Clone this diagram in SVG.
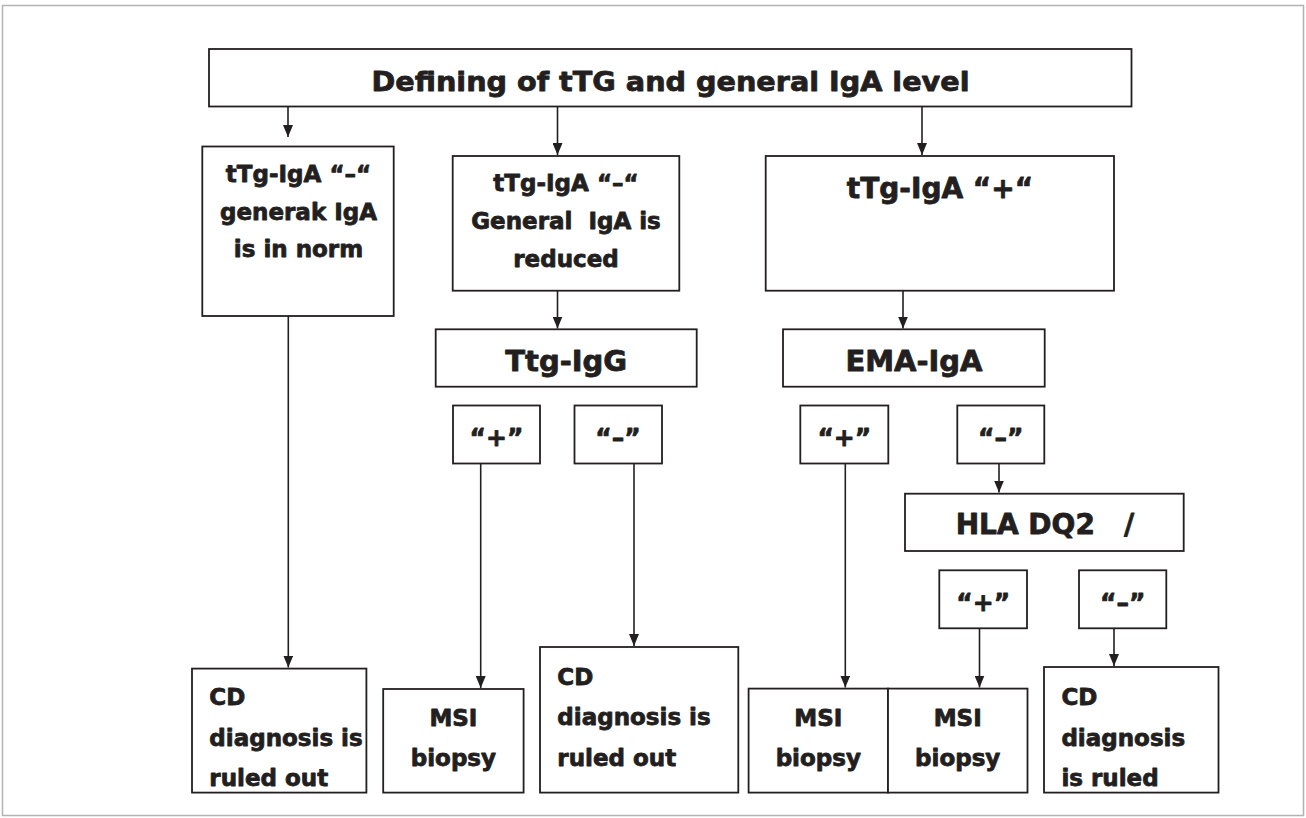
<svg xmlns="http://www.w3.org/2000/svg" width="1306" height="818" viewBox="0 0 1306 818">
<defs>
<marker id="ah" viewBox="0 0 12 10" refX="12" refY="5" markerWidth="12" markerHeight="10" markerUnits="userSpaceOnUse" orient="auto">
<path d="M0,0 L12,5 L0,10 z" fill="#231f20"/>
</marker>
<style>
.box{fill:#fff;stroke:#231f20;stroke-width:1.8}
.t{font-family:"DejaVu Sans",sans-serif;font-weight:bold;fill:#231f20;stroke:#231f20;stroke-width:0.8;stroke-linejoin:round}
.b{font-size:23px}
.h{font-size:29px}
.q{font-size:25px}
.c{text-anchor:middle}
.con line{stroke:#231f20;stroke-width:1.6}
.arr{marker-end:url(#ah)}
</style>
</defs>
<rect x="2.5" y="5.5" width="1301" height="810" fill="#fff" stroke="#b3b3b3" stroke-width="1.5"/>

<g id="connectors" class="con">
<line class="arr" x1="288" y1="106" x2="288" y2="137"/>
<line class="arr" x1="557.5" y1="106" x2="557.5" y2="155"/>
<line class="arr" x1="922" y1="106" x2="922" y2="155"/>
<line class="arr" x1="557.5" y1="291" x2="557.5" y2="328.5"/>
<line class="arr" x1="903" y1="291" x2="903" y2="328.5"/>
<line class="arr" x1="288.3" y1="310" x2="288.3" y2="667.5"/>
<line class="arr" x1="480.7" y1="463.5" x2="480.7" y2="688"/>
<line class="arr" x1="634" y1="463.5" x2="634" y2="646"/>
<line class="arr" x1="845.3" y1="463.5" x2="845.3" y2="687.5"/>
<line class="arr" x1="999" y1="463.5" x2="999" y2="492.5"/>
<line class="arr" x1="979.5" y1="628.3" x2="979.5" y2="687.5"/>
<line class="arr" x1="1114" y1="628.3" x2="1114" y2="666"/>
</g>

<g id="n-top">
<rect class="box" x="209" y="49" width="922.5" height="57.5"/>
<text class="t c" x="670.5" y="90.5" font-size="27" textLength="598" lengthAdjust="spacingAndGlyphs">Defining of tTG and general IgA level</text>
</g>

<g id="n-a">
<rect class="box" x="202.3" y="146.5" width="191.4" height="169.5"/>
<text class="t b c" x="298.5" y="181.5">tTg-IgA “–“</text>
<text class="t b c" x="298.5" y="219.5">generak IgA</text>
<text class="t b c" x="298.5" y="256.5">is in norm</text>
</g>

<g id="n-b">
<rect class="box" x="452.7" y="156" width="226.6" height="134.7"/>
<text class="t b c" x="566" y="191">tTg-IgA “–“</text>
<text class="t b c" x="566" y="229" xml:space="preserve">General  IgA is</text>
<text class="t b c" x="566" y="266.5">reduced</text>
</g>

<g id="n-c">
<rect class="box" x="765.7" y="156" width="348.3" height="134.7"/>
<text class="t c" x="940" y="198" font-size="28">tTg-IgA “+“</text>
</g>

<g id="n-ttgigg">
<rect class="box" x="435.7" y="329.3" width="261" height="57.4"/>
<text class="t h c" x="566.2" y="370.7">Ttg-IgG</text>
</g>

<g id="n-emaiga">
<rect class="box" x="783" y="329.3" width="261.7" height="57.4"/>
<text class="t h c" x="914" y="370.7">EMA-IgA</text>
</g>

<g id="n-ttg-pos">
<rect class="box" x="453" y="405.5" width="87" height="58"/>
<text class="t q c" x="496.5" y="446">“+”</text>
</g>
<g id="n-ttg-neg">
<rect class="box" x="574.5" y="405.5" width="87.5" height="58"/>
<text class="t q c" x="618" y="446">“–”</text>
</g>
<g id="n-ema-pos">
<rect class="box" x="800.3" y="405.5" width="88" height="58"/>
<text class="t q c" x="844.3" y="446">“+”</text>
</g>
<g id="n-ema-neg">
<rect class="box" x="957.3" y="405.5" width="87" height="58"/>
<text class="t q c" x="1000.8" y="446">“–”</text>
</g>

<g id="n-hla">
<rect class="box" x="905" y="493.7" width="278.7" height="57.3"/>
<text class="t c" x="1045" y="534.3" font-size="28" xml:space="preserve">HLA DQ2   /</text>
</g>

<g id="n-hla-pos">
<rect class="box" x="939.3" y="570.3" width="87.7" height="58"/>
<text class="t q c" x="983.2" y="610.8">“+”</text>
</g>
<g id="n-hla-neg">
<rect class="box" x="1079" y="570.3" width="87.3" height="58"/>
<text class="t q c" x="1122.7" y="610.8">“–”</text>
</g>

<g id="n-cd1">
<rect class="box" x="192" y="668.6" width="174.4" height="124"/>
<text class="t b" x="209.3" y="705">CD</text>
<text class="t b" x="209.3" y="745.5">diagnosis is</text>
<text class="t b" x="209.3" y="786">ruled out</text>
</g>

<g id="n-msi1">
<rect class="box" x="383.2" y="689" width="140.4" height="103.6"/>
<text class="t b c" x="453.4" y="726">MSI</text>
<text class="t b c" x="453.4" y="766">biopsy</text>
</g>

<g id="n-cd2">
<rect class="box" x="540" y="647" width="198.3" height="145.6"/>
<text class="t b" x="557.3" y="684.5">CD</text>
<text class="t b" x="557.3" y="725">diagnosis is</text>
<text class="t b" x="557.3" y="765.5">ruled out</text>
</g>

<g id="n-msi2">
<rect class="box" x="748.6" y="688.6" width="139.4" height="104"/>
<text class="t b c" x="818.3" y="726">MSI</text>
<text class="t b c" x="818.3" y="766">biopsy</text>
</g>

<g id="n-msi3">
<rect class="box" x="888" y="688.6" width="139.5" height="104"/>
<text class="t b c" x="957.7" y="726">MSI</text>
<text class="t b c" x="957.7" y="766">biopsy</text>
</g>

<g id="n-cd3">
<rect class="box" x="1044" y="667" width="174.5" height="125.6"/>
<text class="t b" x="1061.4" y="705">CD</text>
<text class="t b" x="1061.4" y="745.5">diagnosis</text>
<text class="t b" x="1061.4" y="786">is ruled</text>
</g>
</svg>
